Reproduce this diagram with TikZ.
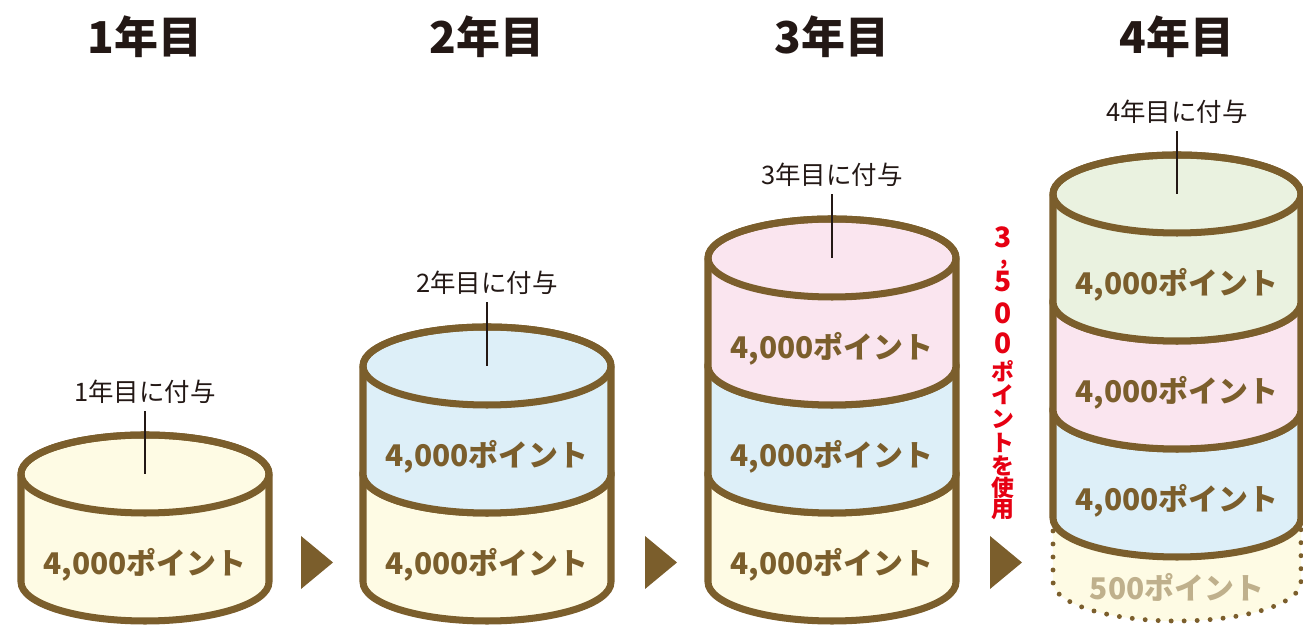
\documentclass[tikz,border=0pt]{standalone}
\usepackage{fontspec}
\setmainfont{Noto Sans CJK JP}
\usepackage{tikz}

\definecolor{pbrown}{HTML}{7B5E2C}
\definecolor{pyellow}{HTML}{FEFBE4}
\definecolor{pblue}{HTML}{DDEFF8}
\definecolor{ppink}{HTML}{FAE5EF}
\definecolor{pgreen}{HTML}{EAF2E0}
\definecolor{pred}{HTML}{E60012}
\definecolor{pgrey}{HTML}{BFB08C}
\definecolor{pdark}{HTML}{231815}

\begin{document}
\begin{tikzpicture}
	 [x=0.02cm,y=0.02cm,every node/.style={inner sep=0pt},
	  seg/.style={draw=pbrown,line width=4pt,line join=round},
	  dotseg/.style={draw=pbrown,line width=2.8pt,line cap=round,dash pattern=on 0pt off 7.4pt},
	  tick/.style={draw=pdark,line width=1.1pt,shorten <=4pt},
	  year/.style={font=\bfseries\fontsize{25}{25}\selectfont,text=pdark},
	  gift/.style={font=\fontsize{14.5}{14.5}\selectfont,text=pdark},
	  pts/.style={font=\bfseries\fontsize{17}{17}\selectfont,text=pbrown},
	  used/.style={font=\bfseries\fontsize{13}{13}\selectfont,text=pred},
	  useddigit/.style={font=\bfseries\fontsize{16}{16}\selectfont,text=pred}]

	\useasboundingbox (0,0) rectangle (1303,628);

	% 500 left over
	\fill[pyellow] (1053,110) -- (1053,46) arc[start angle=180,end angle=360,x radius=124,y radius=39] -- (1301,110) arc[start angle=0,end angle=-180,x radius=124,y radius=39] -- cycle;
	\draw[dotseg] (1053,110) -- (1053,46) arc[start angle=180,end angle=360,x radius=124,y radius=39] -- (1301,110);

	% stacks, bottom to top
	\foreach \cx/\yb/\yt/\col in {145/46/154/pyellow,
	    487/46/154/pyellow, 487/154/262/pblue,
	    832/46/154/pyellow, 832/154/262/pblue, 832/262/370/ppink,
	    1177/110/218/pblue, 1177/218/326/ppink, 1177/326/434/pgreen}
	{
	  \filldraw[seg,fill=\col] (\cx-124,\yt) -- (\cx-124,\yb) arc[start angle=180,end angle=360,x radius=124,y radius=39] -- (\cx+124,\yt) arc[start angle=0,end angle=180,x radius=124,y radius=39] -- cycle;
	  \draw[seg] (\cx,\yt) ellipse[x radius=124,y radius=39];
	}

	  \node[pts] (p11) at (145,63) {4,000ポイント};
	  \node[pts] (p21) at (487,63) {4,000ポイント};
	  \node[pts] (p22) at (487,171) {4,000ポイント};
	  \node[pts] (p31) at (832,63) {4,000ポイント};
	  \node[pts] (p32) at (832,171) {4,000ポイント};
	  \node[pts] (p33) at (832,279) {4,000ポイント};
	  \node[pts,text=pgrey] (p40) at (1177,41) {500ポイント};
	  \node[pts] (p41) at (1177,127) {4,000ポイント};
	  \node[pts] (p42) at (1177,235) {4,000ポイント};
	  \node[pts] (p43) at (1177,343) {4,000ポイント};

	  \node[year] (y1) at (145,591) {1年目};
	  \node[year] (y2) at (487,591) {2年目};
	  \node[year] (y3) at (832,591) {3年目};
	  \node[year] (y4) at (1177,591) {4年目};

	  \node[gift] (g1) at (145,236) {1年目に付与};
	  \node[gift] (g2) at (487,345) {2年目に付与};
	  \node[gift] (g3) at (832,453) {3年目に付与};
	  \node[gift] (g4) at (1177,516) {4年目に付与};

	  \coordinate (c1) at (145,154);
	  \coordinate (c2) at (487,262);
	  \coordinate (c3) at (832,370);
	  \coordinate (c4) at (1177,434);
	\foreach \from/\to in {g1/c1,g2/c2,g3/c3,g4/c4}
    \draw[tick] (\from) -- (\to);

	\foreach \x in {301,645,990}
    \fill[pbrown] (\x,92) -- (\x+32,65.5) -- (\x,39) -- cycle;

	% 3,500 used, written downwards
	\foreach \ch/\yy [count=\i] in {3/391,5/346,0/315,0/285}
    \node[useddigit] (d\i) at (1003,\yy) {\ch};
	\node[used,font=\bfseries\fontsize{12}{12}\selectfont] (d0) at (1004,363) {,};
	\foreach \ch/\yy [count=\i] in {ポ/257,イ/233,ン/209,ト/185,を/162,使/140,用/118}
    \node[used] (u\i) at (1003,\yy) {\ch};

\end{tikzpicture}
\end{document}
